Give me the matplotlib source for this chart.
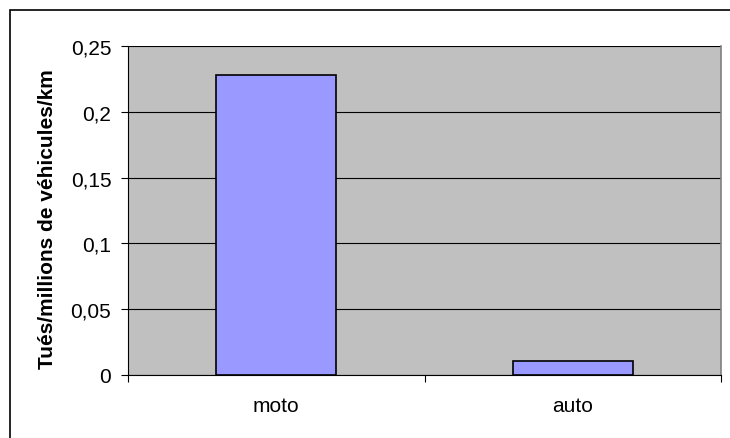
import matplotlib
matplotlib.use("Agg")
from matplotlib import pyplot as plt
from matplotlib.patches import Rectangle
from matplotlib.ticker import FuncFormatter

categories = ["moto", "auto"]
deaths_per_mkm = [0.228, 0.011]
y_ticks = [0, 0.05, 0.1, 0.15, 0.2, 0.25]

plt.rcParams["font.family"] = ["Liberation Sans", "DejaVu Sans"]

W, H = 730, 439
fig = plt.figure(figsize=(W / 100, H / 100), dpi=100)
ax = fig.add_axes([128 / W, 1 - 376 / H, (721 - 128) / W, (376 - 47) / H])
ax.set_facecolor("#C0C0C0")

x = list(range(len(categories)))
ax.bar(x, deaths_per_mkm, width=0.405, color="#9999FF", edgecolor="black",
       linewidth=1.2, zorder=3)

ax.set_xlim(-0.5, len(categories) - 0.5)
ax.set_ylim(0, 0.25)
ax.set_yticks(y_ticks)
ax.yaxis.set_major_formatter(
    FuncFormatter(lambda v, _: ("%g" % v).replace(".", ",")))
ax.grid(axis="y", color="black", linewidth=0.8, zorder=1)

# category labels centred, ticks on the category boundaries
ax.set_xticks(x)
ax.set_xticklabels(categories, fontsize=15)
ax.tick_params(axis="x", which="major", length=0, pad=15)
ax.set_xticks([-0.5, 0.5, 1.5], minor=True)
ax.tick_params(axis="x", which="minor", length=5, width=0.8, direction="out")
ax.tick_params(axis="y", length=5, width=0.8, direction="out", labelsize=15, pad=7)

ax.spines["top"].set_visible(False)
ax.spines["right"].set_color("#808080")
ax.spines["right"].set_linewidth(1.2)
ax.spines["left"].set_linewidth(0.8)
ax.spines["bottom"].set_linewidth(0.8)

ax.set_ylabel("Tués/millions de véhicules/km", fontsize=15, fontweight="bold")
ax.yaxis.set_label_coords(57 / W, 0.5, transform=fig.transFigure)

# chart frame: left and top edges visible, right and bottom run off the canvas
fig.patches.append(Rectangle((10 / W, -50 / H), (W + 50) / W, (H - 11 + 50) / H,
                             transform=fig.transFigure, fill=False,
                             edgecolor="black", linewidth=1.2))

fig.savefig("out.png", dpi=100)
